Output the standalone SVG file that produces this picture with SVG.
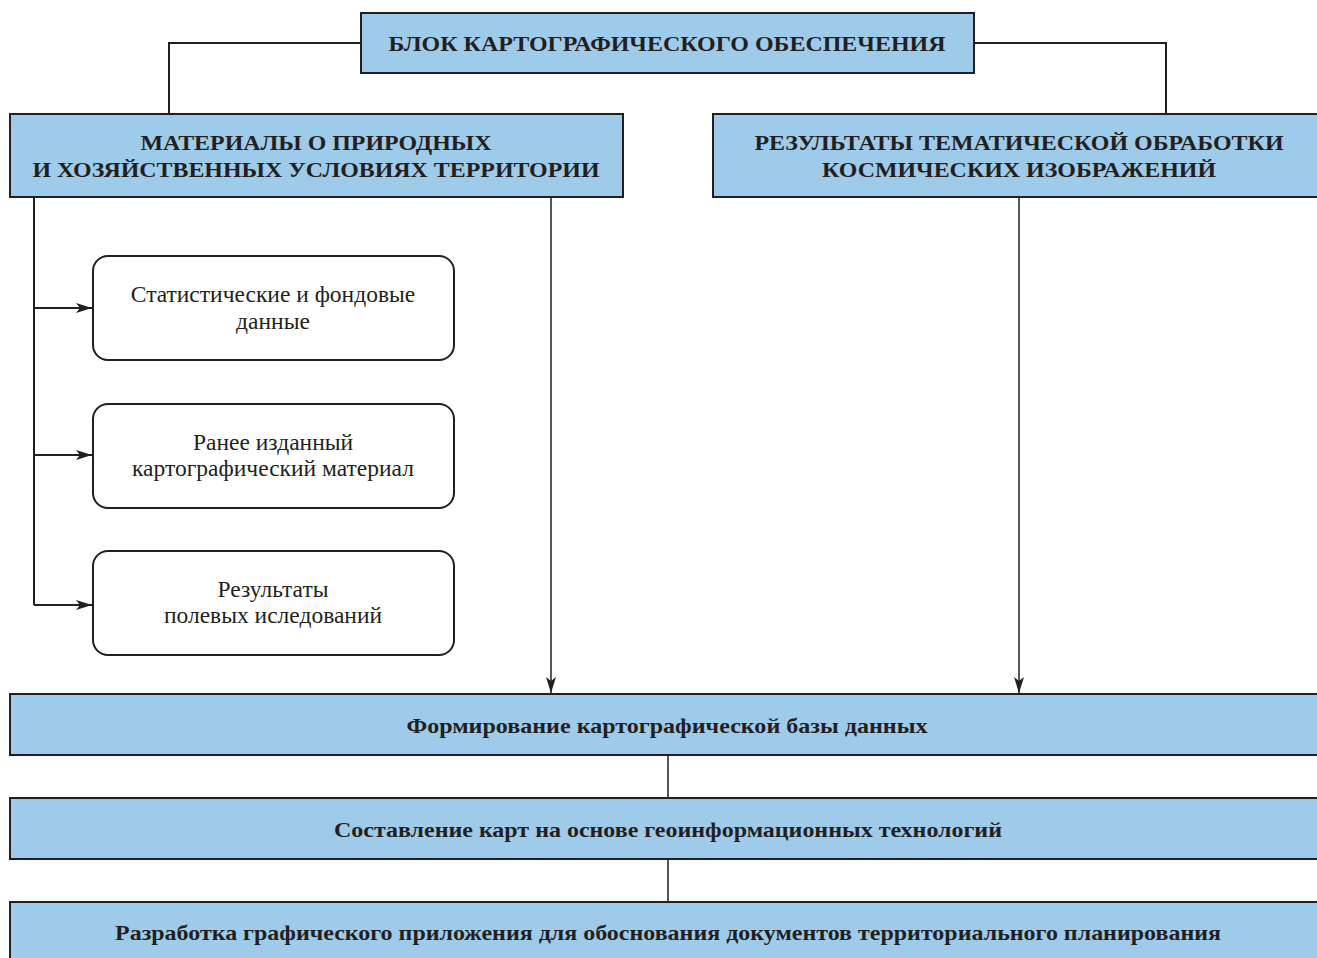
<svg xmlns="http://www.w3.org/2000/svg" width="1317" height="958" viewBox="0 0 1317 958">
<style>
.blue{fill:#9fcbeb;stroke:#231f20;stroke-width:2}
.wbox{fill:#fff;stroke:#231f20;stroke-width:2}
.ln{fill:none;stroke:#231f20;stroke-width:2}
.thin{fill:none;stroke:#231f20;stroke-width:1.5}
.hb{font-family:"Liberation Serif",serif;font-weight:bold;font-size:22px;fill:#231f20;text-anchor:middle}
.bb{font-family:"Liberation Serif",serif;font-weight:bold;font-size:21px;fill:#231f20;text-anchor:middle}
.rg{font-family:"Liberation Serif",serif;font-size:23.5px;fill:#231f20;text-anchor:middle}
</style>
<defs>
<marker id="ah" viewBox="0 0 16 10" refX="16" refY="5" markerWidth="16" markerHeight="10" markerUnits="userSpaceOnUse" orient="auto">
<path d="M0,0 L16,5 L0,10 L4,5 Z" fill="#231f20"/>
</marker>
</defs>
<rect width="1317" height="958" fill="#fff"/>
<g id="connectors">
<polyline class="ln" points="361,43 169,43 169,114"/>
<polyline class="ln" points="974,43 1166,43 1166,114"/>
<polyline class="ln" points="34,197 34,605"/>
<line class="ln" x1="34" y1="308" x2="92" y2="308" marker-end="url(#ah)"/>
<line class="ln" x1="34" y1="455" x2="92" y2="455" marker-end="url(#ah)"/>
<line class="ln" x1="34" y1="605" x2="92" y2="605" marker-end="url(#ah)"/>
<line class="thin" x1="551" y1="197" x2="551" y2="693" marker-end="url(#ah)"/>
<line class="thin" x1="1019" y1="197" x2="1019" y2="693" marker-end="url(#ah)"/>
<line class="thin" x1="668" y1="755" x2="668" y2="798"/>
<line class="thin" x1="668" y1="859" x2="668" y2="902"/>
</g>
<g id="n-top">
<rect class="blue" x="361" y="13" width="613" height="60"/>
<text class="hb" x="667" y="51" textLength="557" lengthAdjust="spacingAndGlyphs">БЛОК КАРТОГРАФИЧЕСКОГО ОБЕСПЕЧЕНИЯ</text>
</g>
<g id="n-materials">
<rect class="blue" x="10" y="114" width="613" height="83"/>
<text class="hb" x="316" y="150" textLength="351" lengthAdjust="spacingAndGlyphs">МАТЕРИАЛЫ О ПРИРОДНЫХ</text>
<text class="hb" x="316" y="177" textLength="567" lengthAdjust="spacingAndGlyphs">И ХОЗЯЙСТВЕННЫХ УСЛОВИЯХ ТЕРРИТОРИИ</text>
</g>
<g id="n-results">
<rect class="blue" x="713" y="114" width="610" height="83"/>
<text class="hb" x="1019" y="150" textLength="529" lengthAdjust="spacingAndGlyphs">РЕЗУЛЬТАТЫ ТЕМАТИЧЕСКОЙ ОБРАБОТКИ</text>
<text class="hb" x="1019" y="177" textLength="394" lengthAdjust="spacingAndGlyphs">КОСМИЧЕСКИХ ИЗОБРАЖЕНИЙ</text>
</g>
<g id="n-stat">
<rect class="wbox" x="93" y="256" width="361" height="104" rx="15"/>
<text class="rg" x="273" y="302">Статистические и фондовые</text>
<text class="rg" x="273" y="329">данные</text>
</g>
<g id="n-earlier">
<rect class="wbox" x="93" y="404" width="361" height="104" rx="15"/>
<text class="rg" x="273" y="450">Ранее изданный</text>
<text class="rg" x="273" y="476">картографический материал</text>
</g>
<g id="n-field">
<rect class="wbox" x="93" y="551" width="361" height="104" rx="15"/>
<text class="rg" x="273" y="597">Результаты</text>
<text class="rg" x="273" y="623">полевых иследований</text>
</g>
<g id="n-db">
<rect class="blue" x="10" y="694" width="1313" height="61"/>
<text class="bb" x="667" y="733" textLength="521" lengthAdjust="spacingAndGlyphs">Формирование картографической базы данных</text>
</g>
<g id="n-maps">
<rect class="blue" x="10" y="798" width="1313" height="61"/>
<text class="bb" x="668" y="837" textLength="668" lengthAdjust="spacingAndGlyphs">Составление карт на основе геоинформационных технологий</text>
</g>
<g id="n-app">
<rect class="blue" x="10" y="902" width="1313" height="70"/>
<text class="bb" x="668" y="940" textLength="1106" lengthAdjust="spacingAndGlyphs">Разработка графического приложения для обоснования документов территориального планирования</text>
</g>
</svg>
